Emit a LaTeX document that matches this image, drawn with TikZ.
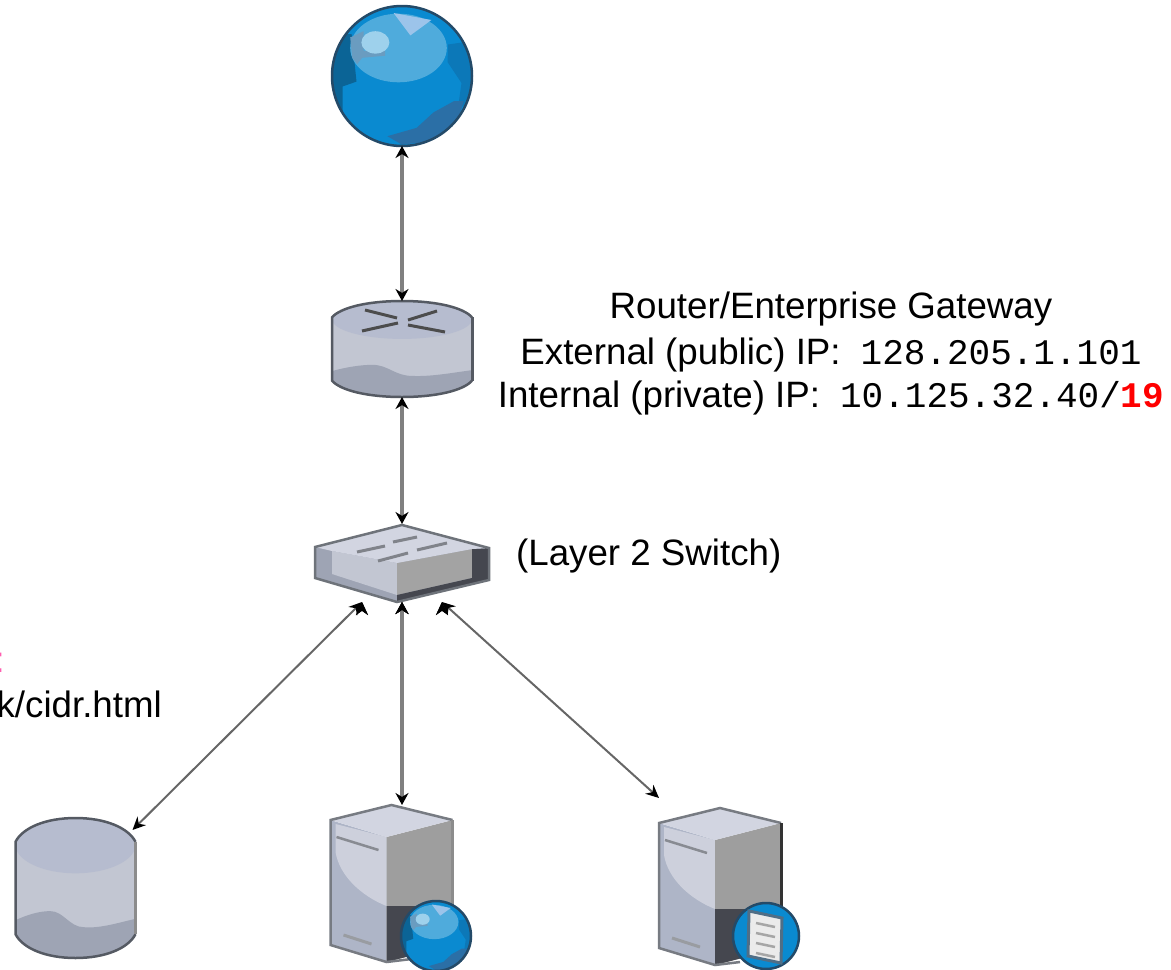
\documentclass[tikz,border=0pt]{standalone}
\usepackage{fontspec}
\setmainfont{Liberation Sans}
\setmonofont{Liberation Mono}
\usepackage{xcolor}
\usetikzlibrary{arrows.meta}
\definecolor{blueMid}{HTML}{0A8AD0}
\definecolor{blueSide}{HTML}{0C78B8}
\definecolor{blueShade}{HTML}{2B6FA6}
\definecolor{blueLight}{HTML}{4FABDC}
\definecolor{blueDark}{HTML}{0B6496}
\definecolor{blueGrey}{HTML}{6A9CC0}
\definecolor{blueGlint}{HTML}{9CC4EA}
\definecolor{blueEdge}{HTML}{244A68}
\definecolor{slate}{HTML}{555A63}
\definecolor{drumTop}{HTML}{B6BCCF}
\definecolor{drumMid}{HTML}{C2C6D2}
\definecolor{drumLow}{HTML}{9EA4B4}
\definecolor{towerPale}{HTML}{CDD0DC}
\definecolor{towerLow}{HTML}{AEB5C7}
\definecolor{towerTop}{HTML}{D2D5E1}
\definecolor{hotPink}{HTML}{FF5FB0}
\newcommand{\addrfont}{\fontsize{36}{38}\ttfamily\selectfont}
\tikzset{
  spot/.style={inner sep=0pt,outer sep=0pt},
  gwtext/.style={inner sep=0pt,anchor=base,font=\fontsize{36.7}{40}\selectfont},
  thick link/.style={{Stealth[length=12pt,width=13pt,black]}-{Stealth[length=12pt,width=13pt,black]},draw=gray,line width=3.5pt},
  thin link/.style={{Stealth[length=13pt,width=12pt,black]}-{Stealth[length=13pt,width=12pt,black]},draw=black!60,line width=2pt},
  globe/.pic={
    \begin{scope}
    \clip (0,0) circle (1);
    \fill [blueMid] (0,0) circle (1);
    \fill [blueDark] (-1,-.6) -- (-.72,-.6) -- (-.65,.08) -- (-.85,.15) -- (-.85,.55) -- (-1,.6) -- cycle;
    \fill [blueSide] (.66,-.45) -- (1,-.5) -- (1,.4) -- (.8,.45) -- (.85,.1) -- (.65,-.2) -- cycle;
    \fill [blueShade] (-.21,.86) -- (.21,.74) -- (.45,.52) -- (.74,.36) -- (.88,.36) -- (.79,.69) -- (.45,.93) -- (0,.98) -- cycle;
    \fill [blueLight] (-.05,-.4) ellipse (.69 and .49);
    \fill [blueGrey] (-.74,-.55) -- (-.55,-.64) -- (-.55,-.36) -- (-.24,-.36) -- (-.24,-.29) -- (-.57,-.26) -- (-.64,-.17) -- (-.71,-.26) -- cycle;
    \fill [blueGlint] (-.12,-.9) -- (.42,-.8) -- (.12,-.58) -- cycle;
    \fill [blueLight!55!white] (-.38,-.48) ellipse (.2 and .16);
    \end{scope}
    \draw [blueEdge,line width=2.5pt] (0,0) circle (1);
  },
  drum/.pic={
    \begin{scope}
    \clip (-1,-.66) .. controls (-.88,-.86) and (-.5,-1) .. (0,-1) .. controls (.5,-1) and (.88,-.86) .. (1,-.66) -- (1,.66) .. controls (.88,.86) and (.5,1) .. (0,1) .. controls (-.5,1) and (-.88,.86) .. (-1,.66) -- cycle;
    \fill [drumMid] (-1,-1) rectangle (1,1);
    \fill [drumTop] (-1,-1) rectangle (1,-.62);
    \fill [drumTop] (0,-.62) ellipse (1 and .41);
    \fill [drumLow] (-1,.46) .. controls (-.8,.38) and (-.6,.33) .. (-.42,.33) .. controls (-.2,.33) and (-.1,.56) .. (.14,.56) .. controls (.4,.58) and (.7,.5) .. (1,.44) -- (1,1) -- (-1,1) -- cycle;
    \end{scope}
    \draw [slate,line width=2.5pt] (1,-.66) .. controls (.88,-.86) and (.5,-1) .. (0,-1) .. controls (-.5,-1) and (-.88,-.86) .. (-1,-.66) -- (-1,.66) .. controls (-.88,.86) and (-.5,1) .. (0,1) .. controls (.5,1) and (.88,.86) .. (1,.66);
    \draw [#1,line width=3pt] (1,-.66) -- (1,.66);
  },
  tower/.pic={
    \fill [towerLow] (-61,-64) -- (-5,-47) -- (-5,78) -- (-61,61) -- cycle;
    \fill [towerPale] (-56,-60) -- (-5,-47) -- (-5,22) .. controls (-30,12) and (-52,-8) .. (-56,-32) -- cycle;
    \fill [black!38] (-5,-47) -- (61,-64) -- (61,61) -- (-5,78) -- cycle;
    \fill [black!62!drumTop] (-5,22) -- (61,22) -- (61,61) -- (-5,78) -- cycle;
    \fill [towerTop] (-61,-64) -- (0,-79) -- (61,-64) -- (-5,-47) -- cycle;
    \draw [slate!80,line width=2.5pt] (61,-64) -- (0,-79) -- (-61,-64) -- (-61,61) -- (-5,78) -- (20,75);
    \draw [#1,line width=3pt] (61,-64) -- (61,30);
    \draw [slate!70,line width=2.5pt] (-55,-47) -- (-13,-34);
    \draw [slate!60,line width=3pt] (-48,51) -- (-20,60);
  },
  docbadge/.pic={
    \fill [blueMid] (0,0) circle (33);
    \draw [blueEdge,line width=2.5pt] (0,0) circle (33);
    \fill [black!8,draw=blueEdge!80,line width=3pt] (-17,-25) -- (16,-18) -- (15,27) -- (-18,20) -- cycle;
    \foreach \yy in {-11,-1,9,19} {
      \draw [black!35,line width=2.5pt] (-10,\yy-2) -- (9,\yy+2);
    }
  }
}
\begin{document}
\begin{tikzpicture}[x=1pt,y=-1pt]
\useasboundingbox (0,0) rectangle (1171,970);
\node [spot,circle,minimum size=140pt] (cloud) at (402,76) {};
\node [spot,minimum width=140pt,minimum height=96pt] (router) at (402,349) {};
\node [spot,minimum width=176pt,minimum height=78pt] (switch) at (402,563) {};
\node [spot,minimum width=120pt,minimum height=140pt] (db) at (75.5,888) {};
\node [spot,minimum width=122pt,minimum height=158pt] (web) at (391.5,884) {};
\node [spot,minimum width=122pt,minimum height=158pt] (file) at (720,887) {};
\pic [scale=70] at (cloud) {globe};
\pic [xscale=70,yscale=48] at (router) {drum=slate};
\pic [xscale=60,yscale=70] at (db) {drum=black!45};
\pic at (web) {tower=black!45};
\pic at (file) {tower=black!80};
\pic [scale=35] at (436,936) {globe};
\pic at (766,936) {docbadge};
% router cross
\begin{scope}[shift={(router.center)},black!70,line width=3pt]
\draw (-37,-39) -- (-5,-31);
\draw (35,-38) -- (6,-29);
\draw (-40,-18) -- (-4,-26);
\draw (43,-17) -- (6,-24);
\end{scope}
% switch body
\begin{scope}[shift={(switch.center)}]
\fill [drumLow] (-87,-16) -- (0,-38) -- (87,-15) -- (87,17) -- (-5,39) -- (-87,15) -- cycle;
\fill [drumMid] (-70,-12) -- (-5,0) -- (-5,32) -- (-70,11) -- cycle;
\fill [black!36] (-5,0) -- (70,-14) -- (70,15) -- (-5,32) -- cycle;
\fill [black!62!drumTop] (70,-14) -- (87,-15) -- (87,17) -- (-5,39) -- (-5,32) -- (70,15) -- cycle;
\fill [towerTop] (-87,-16) -- (0,-38) -- (87,-15) -- (70,-14) -- (-5,0) -- (-70,-12) -- cycle;
\draw [slate!85,line width=2.5pt] (-87,-16) -- (0,-38) -- (87,-15) -- (87,17) -- (-5,39) -- (-87,15) -- cycle;
\draw [slate!75,line width=3pt] (-45,-11) -- (-17,-17);
\draw [slate!75,line width=3pt] (-24,-2) -- (6,-10);
\draw [slate!75,line width=3pt] (-9,-21) -- (15,-26);
\draw [slate!75,line width=3pt] (15,-13) -- (45,-20);
\end{scope}
% links
\draw [thick link] (cloud) edge (router);
\draw [thick link] (router) edge (switch);
\draw [thick link] (switch.south) edge (switch.south |- web.north);
\draw [thin link] ([xshift=-40pt]switch.south) edge ([shift={(-3,12)}]db.north east);
\draw [thin link] ([xshift=40pt]switch.south) edge ([yshift=10pt]file.north west);
% text
\node [gwtext] (gwname) at (831,318) {Router/Enterprise Gateway};
\node [gwtext] (gwext) at (831,364) {External (public) IP:\hspace{20pt}{\addrfont 128.205.1.101}};
\node [gwtext] (gwint) at (831,407) {Internal (private) IP:\hspace{20pt}{\addrfont 10.125.32.40/{\bfseries\textcolor{red}{19}}}};
\node [gwtext,anchor=base west] (swname) at (516,565) {(Layer 2 Switch)};
\node [gwtext,anchor=base east,text=hotPink] (colon) at (5,672) {:};
\node [gwtext,anchor=base east] (cidr) at (162,717) {k/cidr.html};
\end{tikzpicture}
\end{document}
